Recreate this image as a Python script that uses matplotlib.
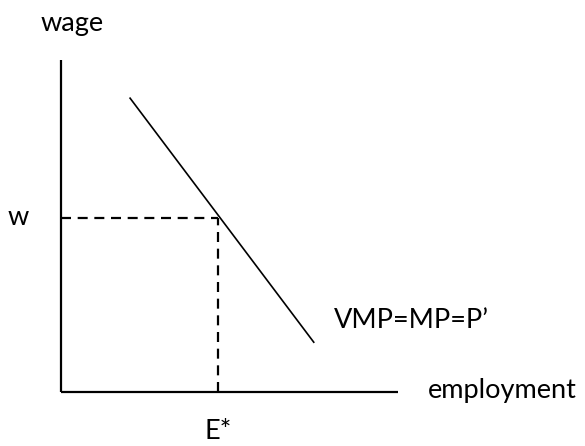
import matplotlib
matplotlib.use('Agg')
import matplotlib.pyplot as plt

# schematic labour-demand diagram (arbitrary units, axes run 0..10)
demand_x = [2.05, 7.5]
demand_y = [8.85, 1.5]
e_star = 4.65
w_star = 5.25

axis_labels = ["employment", "wage"]
curve_label = "VMP=MP=P\u2019"
tick_labels = ["E*", "w"]

FONT = "Lato"
FS = 19.5

fig = plt.figure(figsize=(5.85, 4.46), dpi=100)
# axes box from pixel x 61..398, y 60..392 (from top)
ax = fig.add_axes([61 / 585, 1 - 392 / 446, 337 / 585, 332 / 446])
ax.set_xlim(0, 10)
ax.set_ylim(0, 10)
ax.axis('off')

# axes
ax.plot([0, 10], [0, 0], color='black', lw=1.6, solid_capstyle='butt', clip_on=False)
ax.plot([0, 0], [0, 10], color='black', lw=1.6, solid_capstyle='butt', clip_on=False)

# demand curve
ax.plot(demand_x, demand_y, color='black', lw=1.2, clip_on=False)

# dashed guides
ax.plot([0, e_star], [w_star, w_star], color='black', lw=1.6, ls=(0, (4.5, 3)))
ax.plot([e_star, e_star], [0, w_star], color='black', lw=1.6, ls=(0, (4.5, 3)))

tkw = dict(fontsize=FS, family=FONT, color='black', clip_on=False)
ax.text(-1.28, w_star, tick_labels[1], ha='center', va='center', **tkw)
ax.text(e_star, -1.2, tick_labels[0], ha='center', va='center', **tkw)
ax.text(-0.62, 11.1, axis_labels[1], ha='left', va='center', **tkw)
ax.text(10.9, 0.05, axis_labels[0], ha='left', va='center', **tkw)
ax.text(8.1, 2.15, curve_label, ha='left', va='center', **tkw)

fig.savefig('out.png', dpi=100)
